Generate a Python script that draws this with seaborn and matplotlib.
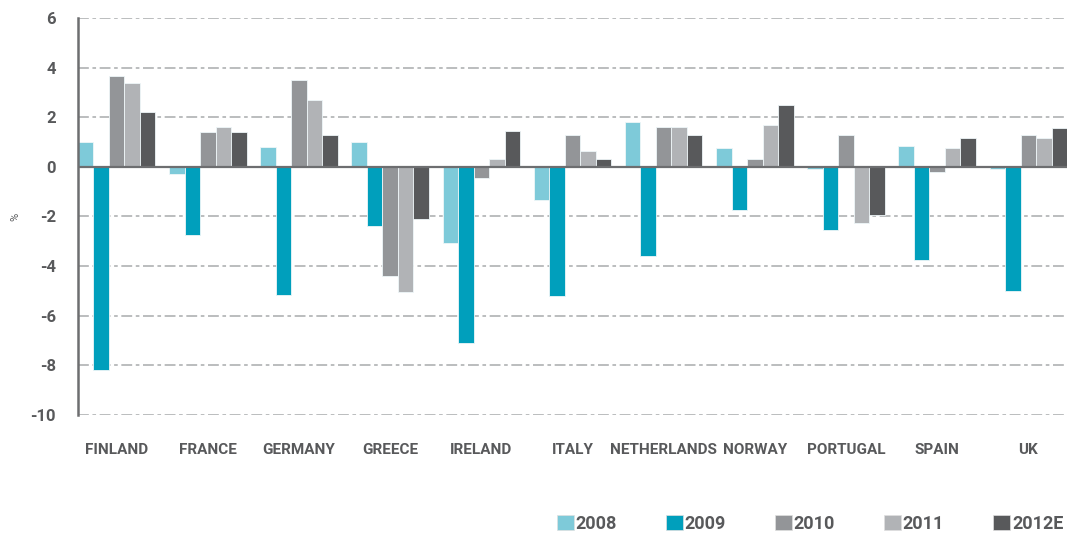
import seaborn as sns
import matplotlib.pyplot as plt
import pandas as pd
from matplotlib.patches import Patch

countries = ["FINLAND", "FRANCE", "GERMANY", "GREECE", "IRELAND", "ITALY",
             "NETHERLANDS", "NORWAY", "PORTUGAL", "SPAIN", "UK"]
years = ["2008", "2009", "2010", "2011", "2012E"]

v2008 = [1.0, -0.3, 0.8, 1.0, -3.05, -1.35, 1.8, 0.75, -0.1, 0.85, -0.1]
v2009 = [-8.2, -2.75, -5.15, -2.4, -7.1, -5.2, -3.6, -1.75, -2.55, -3.75, -5.0]
v2010 = [3.65, 1.4, 3.5, -4.4, -0.45, 1.3, 1.6, 0.3, 1.3, -0.2, 1.3]
v2011 = [3.4, 1.6, 2.7, -5.05, 0.3, 0.65, 1.6, 1.7, -2.25, 0.75, 1.15]
v2012 = [2.2, 1.4, 1.3, -2.1, 1.45, 0.3, 1.3, 2.5, -1.95, 1.15, 1.55]

colors = ["#7ecad9", "#009fbc", "#939598", "#b1b3b6", "#58595b"]

df = pd.DataFrame({
    "country": countries * 5,
    "year": sum([[y] * len(countries) for y in years], []),
    "value": v2008 + v2009 + v2010 + v2011 + v2012,
})

sns.set_style("white")
plt.rcParams["font.family"] = ["Roboto", "DejaVu Sans"]
txt = "#58595b"

fig = plt.figure(figsize=(10.67, 5.37), dpi=100)
ax = fig.add_axes([0.0731, 0.2272, 0.9269, 0.7393])

for t in range(-10, 7, 2):
    if t != 0:
        ax.axhline(t, color="#b5b7b9", lw=1.3, ls=(0, (6, 2, 2, 2)), zorder=0)

sns.barplot(data=df, x="country", y="value", hue="year", hue_order=years,
            palette=colors, saturation=1, width=0.85, ax=ax,
            edgecolor="#eef6f8", linewidth=0.6, legend=False, zorder=2)

ax.axhline(0, color="#6d6e70", lw=1.6, zorder=3)
ax.set_xlim(-0.425, 10.425)
ax.set_ylim(-10, 6)
ax.set_yticks(range(-10, 7, 2))
ax.set_yticklabels([str(t) for t in range(-10, 7, 2)],
                   fontsize=12, fontweight="bold", color=txt)
ax.set_xticks(range(len(countries)))
ax.set_xticklabels(countries, fontsize=11, fontweight="bold", color=txt)
ax.tick_params(axis="y", length=0, pad=16)
ax.tick_params(axis="x", length=0, pad=20)
ax.set_xlabel("")
ax.set_ylabel("%", fontsize=8, color=txt)
ax.yaxis.set_label_coords(-0.058, 0.5)

for s in ["top", "right", "bottom"]:
    ax.spines[s].set_visible(False)
ax.spines["left"].set_color("#6d6e70")
ax.spines["left"].set_linewidth(1.8)

handles = [Patch(facecolor=c, edgecolor="#e0e0e0", lw=0.5) for c in colors]
fig.legend(handles, years, ncol=5, loc="center left",
           bbox_to_anchor=(0.515, 0.025), frameon=False,
           prop={"size": 13, "weight": "bold"}, labelcolor=txt,
           handlelength=0.95, handleheight=0.95, handletextpad=0.1,
           columnspacing=2.7, borderaxespad=0)

fig.savefig("out.png", dpi=100)
